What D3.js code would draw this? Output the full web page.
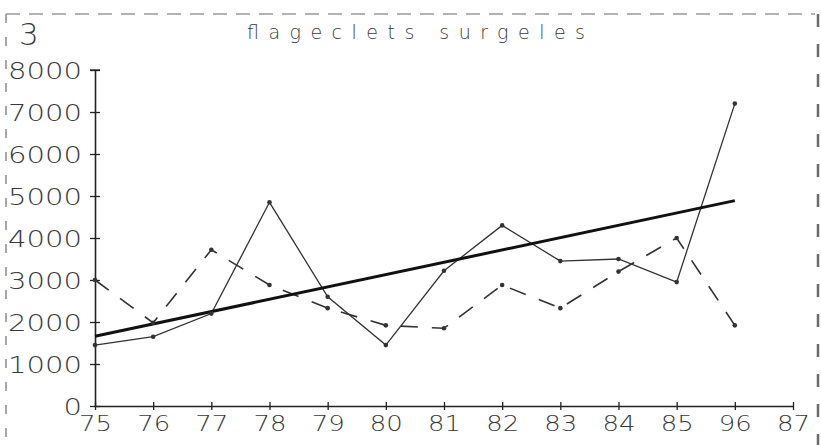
<!DOCTYPE html>
<html>
<head>
<meta charset="utf-8">
<script src="https://cdn.jsdelivr.net/npm/d3@7"></script>
<style>
  body { margin: 0; background: #fff; }
  text { font-family: "DejaVu Sans", sans-serif; font-weight: 200; fill: #3a3a3a; }
</style>
</head>
<body>
<svg id="chart" width="821" height="445"></svg>
<script>
var years = [75, 76, 77, 78, 79, 80, 81, 82, 83, 84, 85, 86];
var xTickLabels = ["75", "76", "77", "78", "79", "80", "81", "82", "83", "84", "85", "96", "87"];
var yTickLabels = ["0", "1000", "2000", "3000", "4000", "5000", "6000", "7000", "8000"];
var solidSeries = [1450, 1650, 2200, 4850, 2600, 1450, 3220, 4300, 3450, 3500, 2950, 7200];
var dashedSeries = [3000, 1980, 3720, 2880, 2330, 1920, 1850, 2880, 2330, 3200, 4000, 1920];
var trendYears = [75, 86];
var trendValues = [1660, 4890];
var title = "flageclets surgeles";
var pageNumber = "3";

var svg = d3.select("#chart");

var x = d3.scaleLinear().domain([75, 87]).range([95, 793]);
var y = d3.scaleLinear().domain([0, 8000]).range([406, 70]);

// frame, drawn like an old plotter sheet
svg.append("line")
    .attr("x1", 6).attr("x2", 815).attr("y1", 14).attr("y2", 14)
    .style("stroke", "#9a9a9a").style("stroke-width", 1.5)
    .style("stroke-dasharray", "14,9");
svg.append("line")
    .attr("x1", 6).attr("x2", 6).attr("y1", 14).attr("y2", 445)
    .style("stroke", "#8a8a8a").style("stroke-width", 1.5)
    .style("stroke-dasharray", "9,14");
svg.append("line")
    .attr("x1", 818).attr("x2", 818).attr("y1", 14).attr("y2", 445)
    .style("stroke", "#6a6a6a").style("stroke-width", 2.5)
    .style("stroke-dasharray", "13,17");

svg.append("text")
    .attr("x", 19).attr("y", 45)
    .style("font-size", "31px")
    .text(pageNumber);

svg.append("text")
    .attr("x", 247).attr("y", 39)
    .attr("textLength", 338).attr("lengthAdjust", "spacing")
    .style("font-size", "19px")
    .text(title);

// axes
var yAxis = d3.axisLeft(y)
    .tickValues(d3.range(0, 8001, 1000))
    .tickFormat(function(d, i) { return yTickLabels[i]; })
    .tickSizeInner(5).tickSizeOuter(0).tickPadding(8);

var yg = svg.append("g").attr("transform", "translate(95,0)").call(yAxis);
yg.selectAll(".tick line").attr("x1", 5).attr("x2", -5);

var xAxis = d3.axisBottom(x)
    .tickValues(d3.range(75, 88))
    .tickFormat(function(d, i) { return xTickLabels[i]; })
    .tickSizeInner(4).tickSizeOuter(0).tickPadding(5);

var xg = svg.append("g").attr("transform", "translate(0,406)").call(xAxis);
xg.selectAll(".tick line").attr("y1", -4).attr("y2", 4);

svg.selectAll(".domain").style("stroke", "#222").style("stroke-width", 1.6);
svg.selectAll(".tick line").style("stroke", "#222").style("stroke-width", 1.3);

yg.selectAll(".tick text")
    .style("font-size", "23px")
    .attr("dy", "0.36em")
    .each(function() {
        var t = d3.select(this);
        var n = t.text().length;
        t.attr("textLength", n * 18.5).attr("lengthAdjust", "spacingAndGlyphs");
    });
xg.selectAll(".tick text")
    .style("font-size", "22px")
    .attr("dy", "0.71em")
    .attr("textLength", 33).attr("lengthAdjust", "spacingAndGlyphs");
svg.selectAll(".tick text")
    .style("fill", "#3a3a3a")
    .style("font-family", "DejaVu Sans")
    .style("font-weight", "200");

// cap on top of y axis
svg.append("line")
    .attr("x1", 90).attr("x2", 100).attr("y1", y(8000)).attr("y2", y(8000))
    .style("stroke", "#222").style("stroke-width", 1.3);

var line = d3.line()
    .x(function(d) { return x(d[0]); })
    .y(function(d) { return y(d[1]); });

var solidPts = years.map(function(d, i) { return [d, solidSeries[i]]; });
var dashedPts = years.map(function(d, i) { return [d, dashedSeries[i]]; });
var trendPts = trendYears.map(function(d, i) { return [d, trendValues[i]]; });

svg.append("path")
    .attr("d", line(dashedPts))
    .style("fill", "none").style("stroke", "#333").style("stroke-width", 1.6)
    .style("stroke-dasharray", "17,14");

svg.append("path")
    .attr("d", line(solidPts))
    .style("fill", "none").style("stroke", "#333").style("stroke-width", 1.3);

svg.append("path")
    .attr("d", line(trendPts))
    .style("fill", "none").style("stroke", "#111").style("stroke-width", 3);

svg.append("g").selectAll("circle")
    .data(solidPts.concat(dashedPts))
    .enter().append("circle")
    .attr("cx", function(d) { return x(d[0]); })
    .attr("cy", function(d) { return y(d[1]); })
    .attr("r", 2.3)
    .style("fill", "#333");
</script>
</body>
</html>
